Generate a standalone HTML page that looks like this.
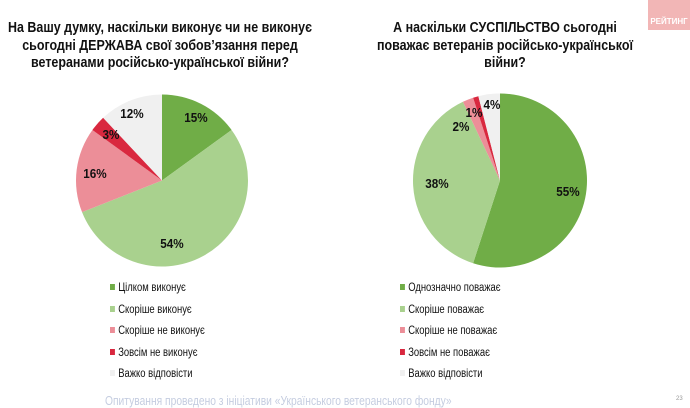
<!DOCTYPE html>
<html><head><meta charset="utf-8"><style>
body{margin:0;width:690px;height:404px;background:#fff;overflow:hidden;position:relative;font-family:"Liberation Sans",sans-serif}
.t{position:absolute;text-align:center;font-weight:bold;font-size:14.5px;line-height:17.5px;color:#111;transform:scaleX(0.86);transform-origin:center top}
.lg{position:absolute;font-size:11.5px;color:#111;transform:scaleX(0.82);transform-origin:left top}
.lg div{height:21.5px;line-height:13px;white-space:nowrap}
.lg span{display:inline-block;width:6px;height:6px;margin-right:4px;vertical-align:1px}
</style></head><body>
<div class="t" style="left:-20px;width:360px;top:20px">На Вашу думку, наскільки виконує чи не виконує<br>сьогодні ДЕРЖАВА свої зобов’язання перед<br>ветеранами російсько-української війни?</div>
<div class="t" style="left:355px;width:300px;top:20px">А наскільки СУСПІЛЬСТВО сьогодні<br>поважає ветеранів російсько-української<br>війни?</div>
<div style="position:absolute;left:648px;top:0;width:42px;height:30px;background:#f2b6b6;color:#fff;font-size:8px;font-weight:bold;line-height:44px;text-align:center">РЕЙТИНГ</div>
<svg id="s" width="690" height="404" style="position:absolute;left:0;top:0"></svg>
<div class="lg" style="left:110px;top:282px">
<div><span style="background:#70ad47"></span>Цілком виконує</div>
<div><span style="background:#a9d18e"></span>Скоріше виконує</div>
<div><span style="background:#ec8e98"></span>Скоріше не виконує</div>
<div><span style="background:#d9283f"></span>Зовсім не виконує</div>
<div><span style="background:#f0f0f0"></span>Важко відповісти</div>
</div>
<div class="lg" style="left:400px;top:282px">
<div><span style="background:#70ad47"></span>Однозначно поважає</div>
<div><span style="background:#a9d18e"></span>Скоріше поважає</div>
<div><span style="background:#ec8e98"></span>Скоріше не поважає</div>
<div><span style="background:#d9283f"></span>Зовсім не поважає</div>
<div><span style="background:#f0f0f0"></span>Важко відповісти</div>
</div>
<div style="position:absolute;left:105px;top:393px;font-size:13px;color:#c5cde0;white-space:nowrap;transform:scaleX(0.79);transform-origin:left top">Опитування проведено з ініціативи «Українського ветеранського фонду»</div>
<div style="position:absolute;left:676px;top:396px;font-size:6px;color:#999">23</div>
<script>
var cols=["#70ad47","#a9d18e","#ec8e98","#d9283f","#f0f0f0"];
function pie(cx,cy,r,v,labels){var s="",a=0;for(var i=0;i<v.length;i++){var b=a+v[i]/100*2*Math.PI;
var x1=cx+r*Math.sin(a),y1=cy-r*Math.cos(a),x2=cx+r*Math.sin(b),y2=cy-r*Math.cos(b);
s+='<path d="M'+cx+','+cy+'L'+x1+','+y1+'A'+r+','+r+' 0 '+((b-a)>Math.PI?1:0)+' 1 '+x2+','+y2+'Z" fill="'+cols[i]+'"/>';a=b;}
labels.forEach(function(l){s+='<text x="'+l[0]+'" y="'+l[1]+'" font-family="Liberation Sans" font-weight="bold" font-size="13" text-anchor="middle" fill="#111" transform="translate('+l[0]+',0) scale(0.9,1) translate('+(-l[0])+',0)">'+l[2]+'</text>';});return s;}
document.getElementById("s").innerHTML=pie(162,180.5,86,[15,54,16,3,12],[[196,122,"15%"],[172,248,"54%"],[95,178,"16%"],[111,139,"3%"],[132,118,"12%"]])+
pie(500,180.5,87,[55,38,2,1,4],[[568,196,"55%"],[437,188,"38%"],[461,131,"2%"],[474,117,"1%"],[492,109,"4%"]]);
</script>
</body></html>
